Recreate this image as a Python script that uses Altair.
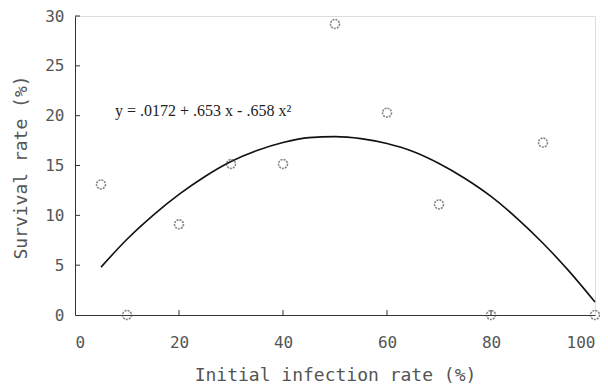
import altair as alt
import pandas as pd

# Observed data points
obs_x = [5, 10, 20, 30, 40, 50, 60, 70, 80, 90, 100]
obs_y = [13.1, 0, 9.1, 15.15, 15.15, 29.2, 20.3, 11.1, 0, 17.3, 0]

# Fitted curve
fit_x = [5, 10, 15, 20, 25, 30, 35, 40, 45, 50, 55, 60, 65, 70, 75, 80, 85, 90, 95, 100]
fit_y = [4.8, 7.6, 10.0, 12.1, 13.9, 15.4, 16.5, 17.3, 17.8, 17.9, 17.7, 17.2,
         16.4, 15.2, 13.7, 11.9, 9.7, 7.2, 4.4, 1.3]

y_ticks = [5, 10, 15, 20, 25, 30]
x_ticks = [20, 40, 60, 80]

eq_text = ["y = .0172 + .653 x - .658 x²"]
eq_x = [7.7]
eq_y = [20.0]

obs = pd.DataFrame({"x": obs_x, "y": obs_y})
fit = pd.DataFrame({"x": fit_x, "y": fit_y})
yt = pd.DataFrame({"v": y_ticks})
xt = pd.DataFrame({"v": x_ticks})
eq = pd.DataFrame({"t": eq_text, "x": eq_x, "y": eq_y})

MONO = "DejaVu Sans Mono"

xscale = alt.Scale(domain=[0, 100], nice=False, zero=False)
yscale = alt.Scale(domain=[0, 30], nice=False, zero=False)

xaxis = alt.Axis(values=[0, 20, 40, 60, 80, 100], title="Initial infection rate (%)",
                 grid=False, ticks=False, domainColor="#333", labelFont=MONO,
                 labelFontSize=16, labelColor="#555", labelPadding=19,
                 titleFont=MONO, titleFontSize=18, titleFontWeight="normal",
                 titleColor="#555", titleY=65, titleBaseline="alphabetic")
yaxis = alt.Axis(values=[0, 5, 10, 15, 20, 25, 30], title="Survival rate (%)",
                 grid=False, ticks=False, domainColor="#333", labelFont=MONO,
                 labelFontSize=16, labelColor="#555", labelPadding=11,
                 titleFont=MONO, titleFontSize=18, titleFontWeight="normal",
                 titleColor="#555", titleX=-49, titleY=151, titleAlign="center",
                 titleBaseline="alphabetic", titleAngle=270)

base_pts = alt.Chart(obs).mark_point(
    shape="circle", filled=False, size=80, stroke="#555", strokeWidth=1.6,
    strokeDash=[2, 1]
).encode(
    x=alt.X("x:Q", scale=xscale, axis=xaxis),
    y=alt.Y("y:Q", scale=yscale, axis=yaxis),
)

curve = alt.Chart(fit).mark_line(color="#111", strokeWidth=1.6, interpolate="monotone").encode(
    x=alt.X("x:Q", scale=xscale),
    y=alt.Y("y:Q", scale=yscale),
)

yticks = alt.Chart(yt).mark_rule(color="#333", strokeWidth=1).encode(
    y=alt.Y("v:Q", scale=yscale),
    x=alt.value(0),
    x2=alt.value(5),
)

xticks = alt.Chart(xt).mark_rule(color="#333", strokeWidth=1).encode(
    x=alt.X("v:Q", scale=xscale),
    y=alt.value(299),
    y2=alt.value(294),
)

eqtext = alt.Chart(eq).mark_text(
    font="Liberation Serif", fontSize=16, align="left", baseline="alphabetic", color="#222"
).encode(
    x=alt.X("x:Q", scale=xscale),
    y=alt.Y("y:Q", scale=yscale),
    text="t:N",
)

chart = alt.layer(curve, yticks, xticks, base_pts, eqtext).properties(
    width=520, height=299,
    autosize=alt.AutoSizeParams(type="none"),
    padding={"left": 67, "top": 8, "right": 5, "bottom": 69},
).configure_view(stroke=None).configure(background="white")

chart.save("out.html", embed_options={"renderer": "svg", "actions": False})
